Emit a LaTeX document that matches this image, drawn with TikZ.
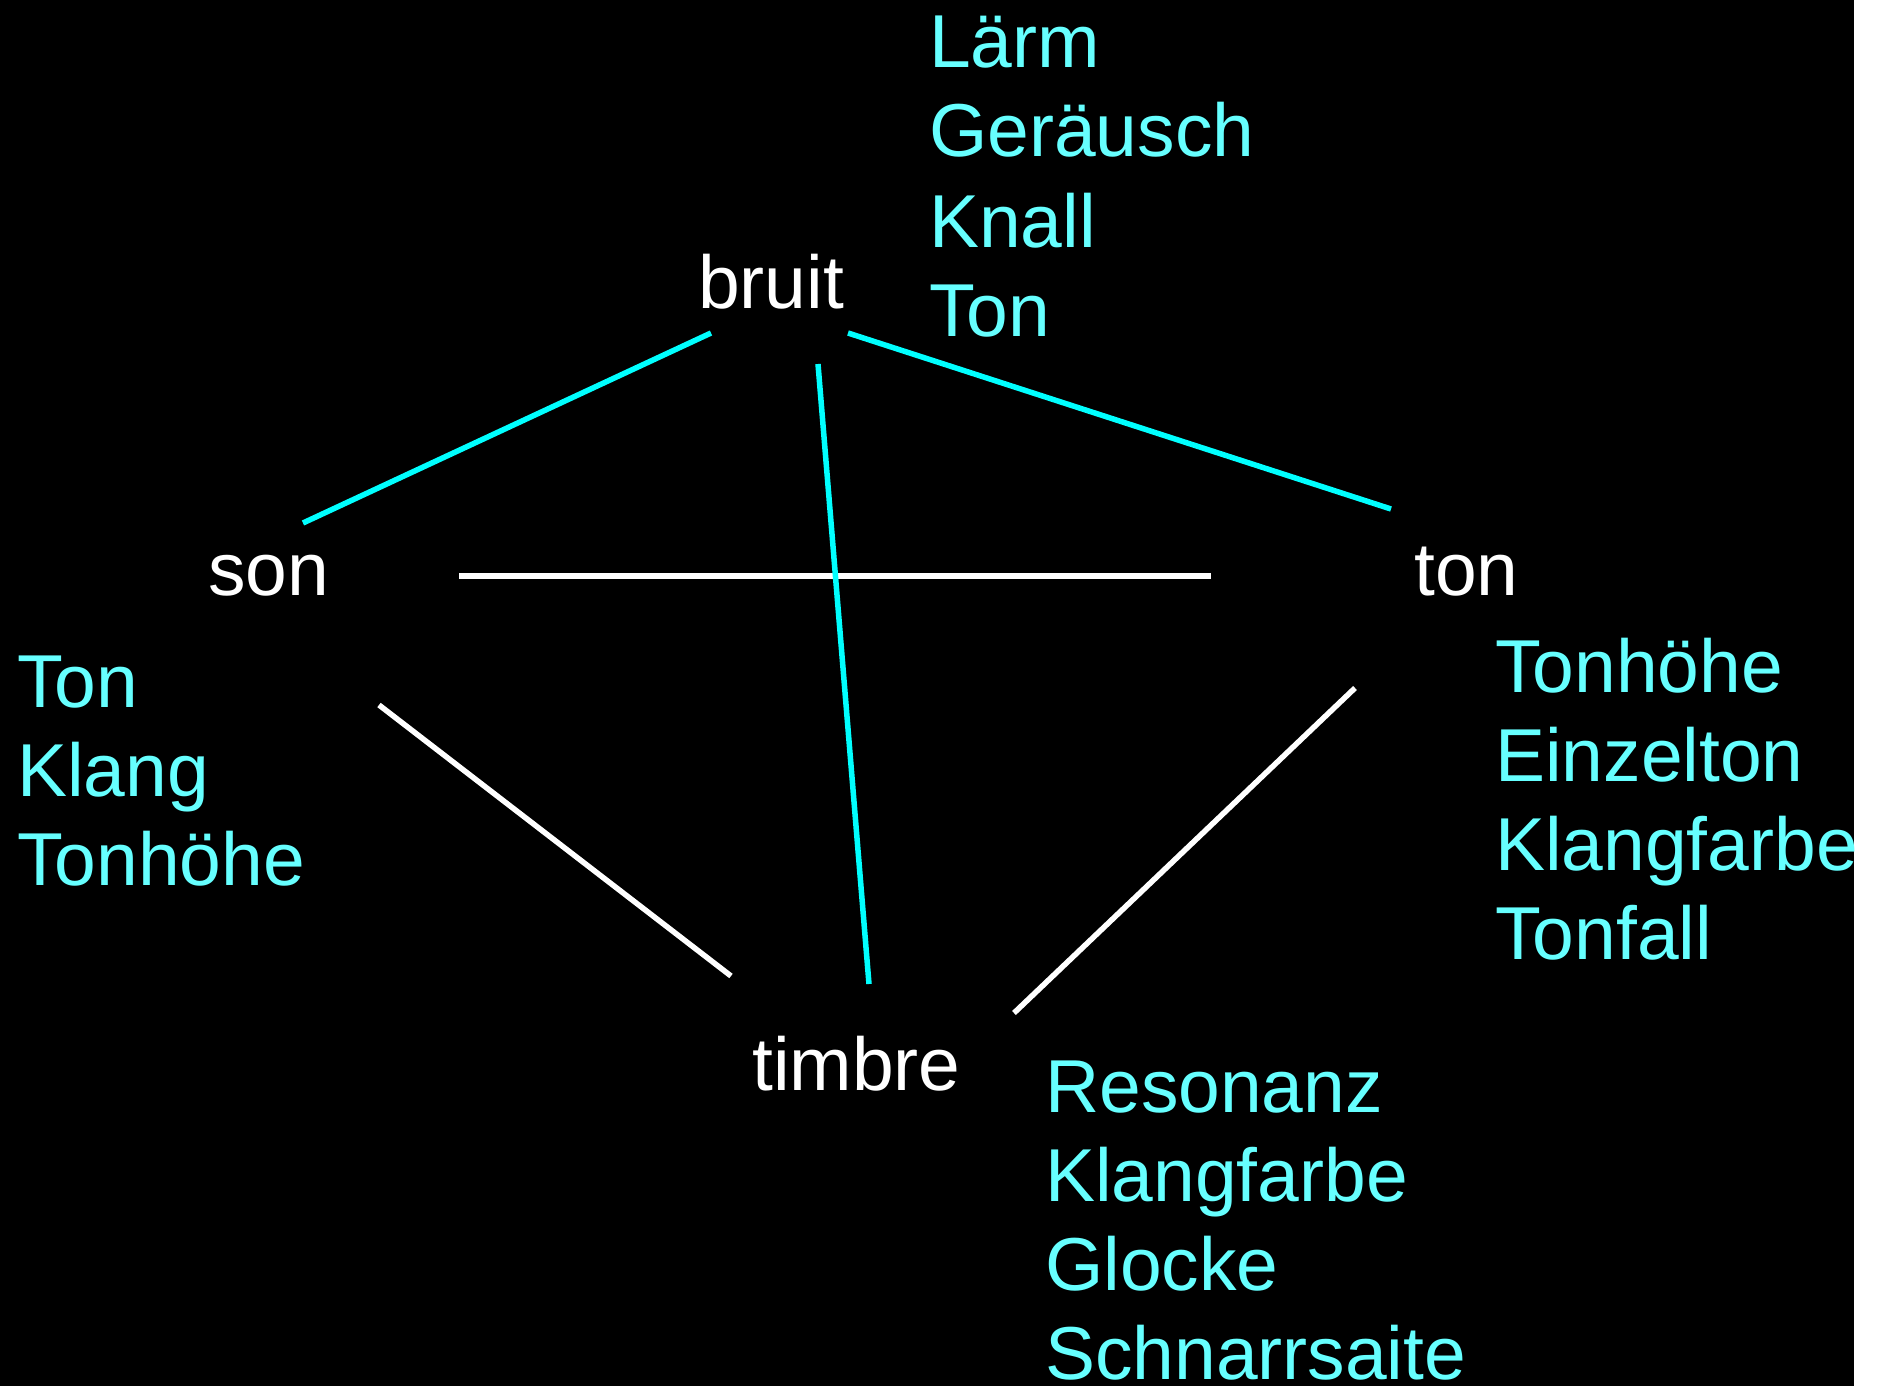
\documentclass[tikz,border=0pt]{standalone}
\usepackage{fontspec}
\setmainfont{Liberation Sans}
\definecolor{linecyan}{HTML}{00FFFF}
\definecolor{textcyan}{HTML}{66FFFF}
\begin{document}
\begin{tikzpicture}[x=1pt,y=-1pt,
  lbl/.style={anchor=base west, inner sep=0pt, text=white, font=\fontsize{75}{90}\selectfont},
  lst/.style={lbl, text=textcyan},
  cl/.style={draw=linecyan, line width=5.5pt},
  wl/.style={draw=white, line width=5.5pt}]
\fill[white] (0,0) rectangle (1877,1386);
\fill[black] (0,0) rectangle (1854,1386);
\useasboundingbox (0,0) rectangle (1877,1386);
% main terms
\node[lbl] (bruit) at (698,308) {bruit};
\node[lbl] (son) at (208,595) {son};
\node[lbl] (ton) at (1414,595) {ton};
\node[lbl] (timbre) at (752,1090) {timbre};
% lists
\node[lst] (b1) at (929,68) {Lärm};
\node[lst] (b2) at (929,157) {Geräusch};
\node[lst] (b3) at (929,247) {Knall};
\node[lst] (b4) at (929,336) {Ton};
\node[lst] (s1) at (17,707) {Ton};
\node[lst] (s2) at (17,796) {Klang};
\node[lst] (s3) at (17,885) {Tonhöhe};
\node[lst] (t1) at (1495,692) {Tonhöhe};
\node[lst] (t2) at (1495,781) {Einzelton};
\node[lst] (t3) at (1495,870) {Klangfarbe};
\node[lst] (t4) at (1495,959) {Tonfall};
\node[lst] (m1) at (1045,1112) {Resonanz};
\node[lst] (m2) at (1045,1201) {Klangfarbe};
\node[lst] (m3) at (1045,1290) {Glocke};
\node[lst] (m4) at (1045,1379) {Schnarrsaite};
% connector ends
\coordinate (bsA) at (711,333);
\coordinate (bsB) at (303,523);
\coordinate (bmA) at (818,364);
\coordinate (bmB) at (869,984);
\coordinate (btA) at (848,333);
\coordinate (btB) at (1391,509);
\coordinate (stA) at (459,576);
\coordinate (stB) at (1211,576);
\coordinate (smA) at (379,705);
\coordinate (smB) at (731,976);
\coordinate (tmA) at (1355,688);
\coordinate (tmB) at (1014,1013);
\draw[wl] (stA) -- (stB);
\draw[wl] (smA) -- (smB);
\draw[wl] (tmA) -- (tmB);
\draw[cl] (bsA) -- (bsB);
\draw[cl] (bmA) -- (bmB);
\draw[cl] (btA) -- (btB);
\end{tikzpicture}
\end{document}
